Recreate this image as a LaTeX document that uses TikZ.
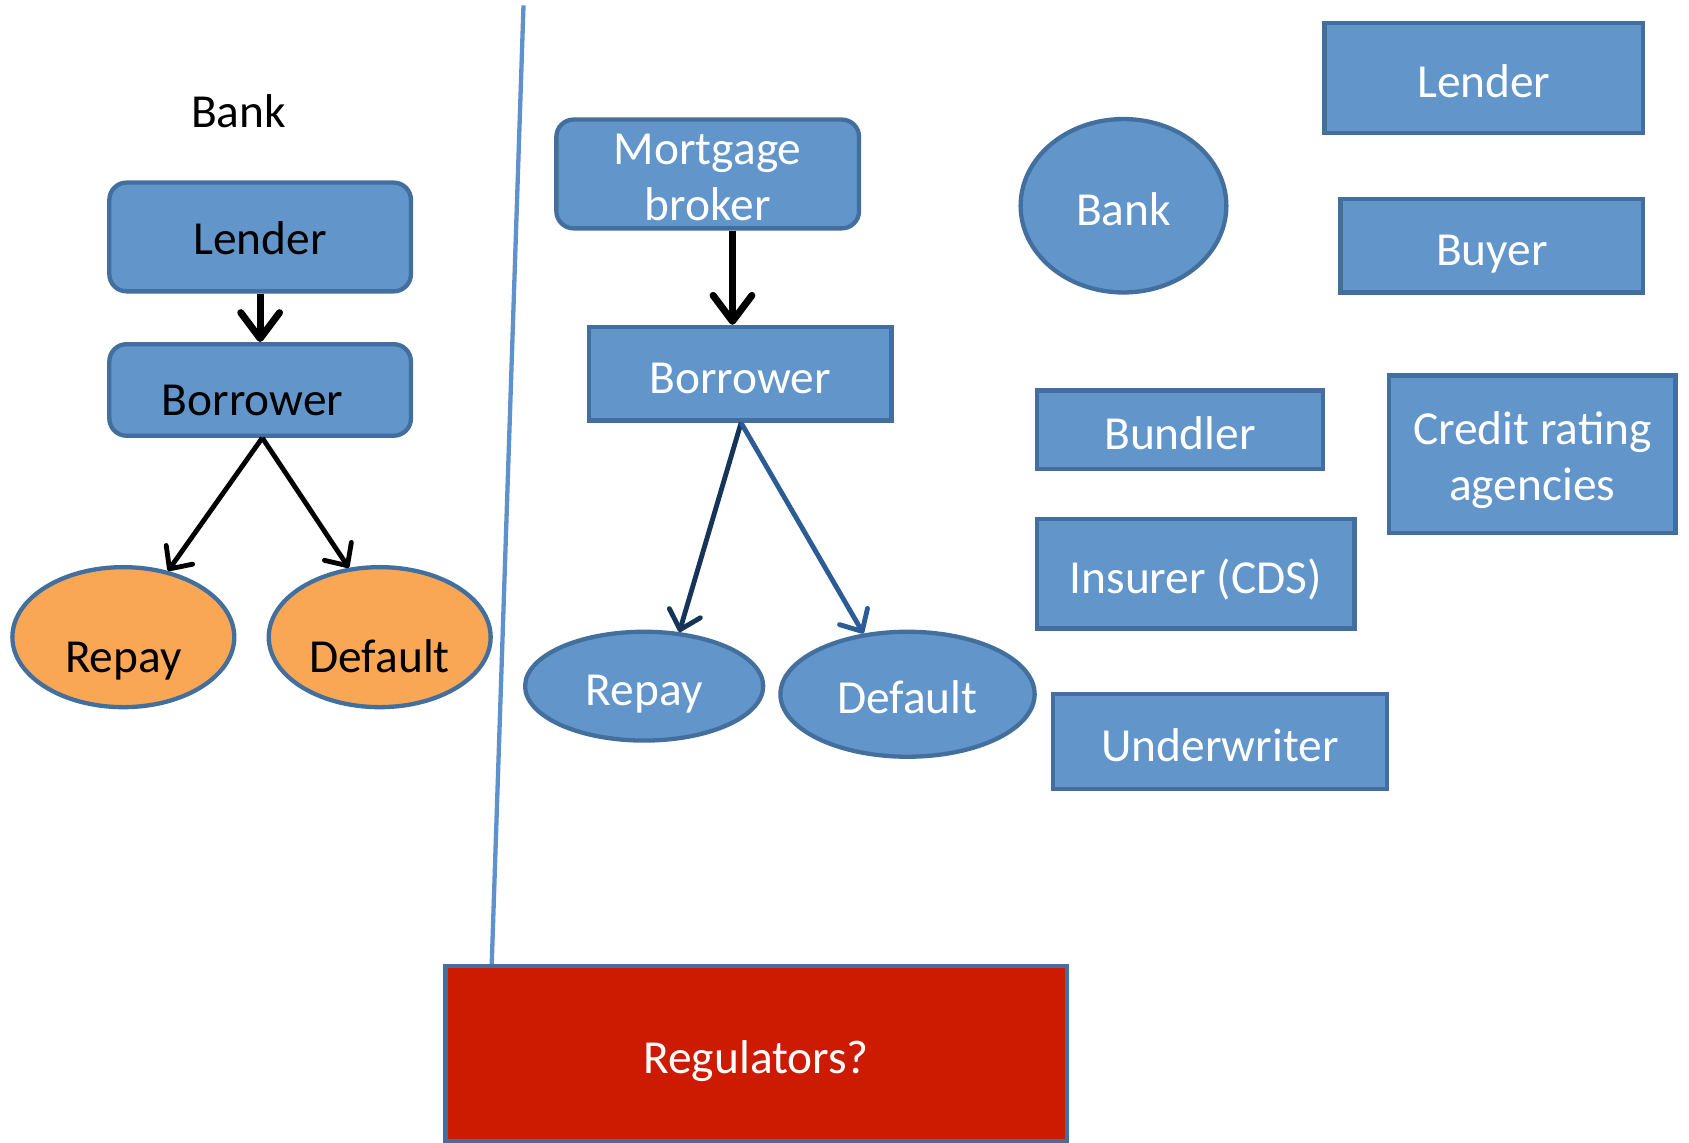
\documentclass[tikz,border=0pt]{standalone}
\usepackage{fontspec}
\setmainfont{Carlito}
\usetikzlibrary{arrows.meta,shapes.geometric}
\definecolor{boxfill}{RGB}{98,149,201}
\definecolor{boxedge}{RGB}{66,111,158}
\definecolor{orangefill}{RGB}{249,167,85}
\definecolor{regred}{RGB}{204,27,0}
\definecolor{divline}{RGB}{95,145,205}
\definecolor{navyarrow}{RGB}{22,52,88}
\definecolor{bluearrow}{RGB}{44,92,150}
\begin{document}
\begin{tikzpicture}[x=1pt,y=-1pt,
  base/.style={draw=boxedge, line width=4pt, inner sep=0pt, font=\fontsize{44}{52}\selectfont},
  mid/.style={text height=36pt, text depth=7.7pt},
  offa/.style={text height=41pt, text depth=7.7pt},
  offb/.style={text height=44pt, text depth=7.7pt},
  offc/.style={text height=56pt, text depth=7.7pt},
  offd/.style={text height=74pt, text depth=7.7pt},
  rbox/.style={base, rectangle, fill=boxfill, text=white},
  rrbox/.style={base, rectangle, rounded corners=16pt, fill=boxfill},
  ell/.style={base, ellipse},
  thickarrow/.style={draw=black, line width=6.5pt, -{Straight Barb[round, length=24pt, width=36pt]}},
  thinarrow/.style={line width=4.5pt, -{Straight Barb[round, length=16pt, width=30pt]}}
]
\useasboundingbox (0,0) rectangle (1568,1061);

% left side
\node[font=\fontsize{44}{52}\selectfont, inner sep=0pt, mid] (banktitle) at (221.5,104) {Bank};
\node[rrbox, offa, minimum width=280pt, minimum height=101pt] (llend) at (241.5,220) {Lender};
\node[rrbox, offc, minimum width=280pt, minimum height=85pt] (lbor) at (241.5,362) {Borrower\kern14pt\relax};
\node[ell, fill=orangefill, offd, minimum width=206pt, minimum height=130pt] (lrep) at (114.5,591.5) {Repay};
\node[ell, fill=orangefill, offd, minimum width=206pt, minimum height=130pt] (ldef) at (352.5,591.5) {Default};

% middle
\node[rrbox, text=white, align=center, minimum width=281pt, minimum height=101pt] (mort) at (657,161.5) {\raisebox{0pt}[\dimexpr\height+6pt\relax]{Mortgage}\\broker};
\node[rbox, offb, minimum width=281pt, minimum height=87pt] (rbor) at (687,347) {Borrower};
\node[ell, fill=boxfill, text=white, offb, minimum width=221pt, minimum height=101pt] (rrep) at (598,637) {Repay};
\node[ell, fill=boxfill, text=white, offb, minimum width=236pt, minimum height=116pt] (rdef) at (842.5,644.5) {Default};

% right side
\node[ell, fill=boxfill, text=white, offb, minimum width=191pt, minimum height=161pt] (rbank) at (1043,191) {Bank};
\node[rbox, offb, minimum width=296pt, minimum height=102pt] (rlend) at (1377.5,72.5) {Lender};
\node[rbox, offb, minimum width=281pt, minimum height=87pt] (buyer) at (1385,228) {Buyer};
\node[rbox, offb, minimum width=266pt, minimum height=73pt] (bundler) at (1095.5,399) {Bundler};
\node[rbox, align=center, minimum width=266pt, minimum height=146pt] (credit) at (1422.5,421.5) {\raisebox{0pt}[\dimexpr\height+11pt\relax]{Credit rating}\\agencies};
\node[rbox, offb, minimum width=295pt, minimum height=102pt] (insurer) at (1110,532.5) {Insurer (CDS)};
\node[rbox, offb, minimum width=310pt, minimum height=88pt] (underw) at (1132.5,688.5) {Underwriter};

% regulators
\node[rbox, fill=regred, offb, minimum width=577pt, minimum height=162pt] (reg) at (702,978) {Regulators?};

% divider
\coordinate (dtop) at (486,5);
\draw[divline, line width=4pt] (dtop) -- ([xshift=45pt]reg.north west);

% connectors
\draw[thickarrow] (llend.south) -- (lbor.north);
\draw[thinarrow, draw=black] ([xshift=2pt]lbor.south) -- (lrep.56);
\draw[thinarrow, draw=black] ([xshift=2pt]lbor.south) -- (ldef.114);
\draw[thickarrow] ([xshift=23pt]mort.south) -- ([xshift=-7pt]rbor.north);
\draw[thinarrow, draw=navyarrow] ([xshift=1pt]rbor.south) -- (rrep.57);
\draw[thinarrow, draw=bluearrow] ([xshift=1pt]rbor.south) -- (rdef.126);
\end{tikzpicture}
\end{document}
